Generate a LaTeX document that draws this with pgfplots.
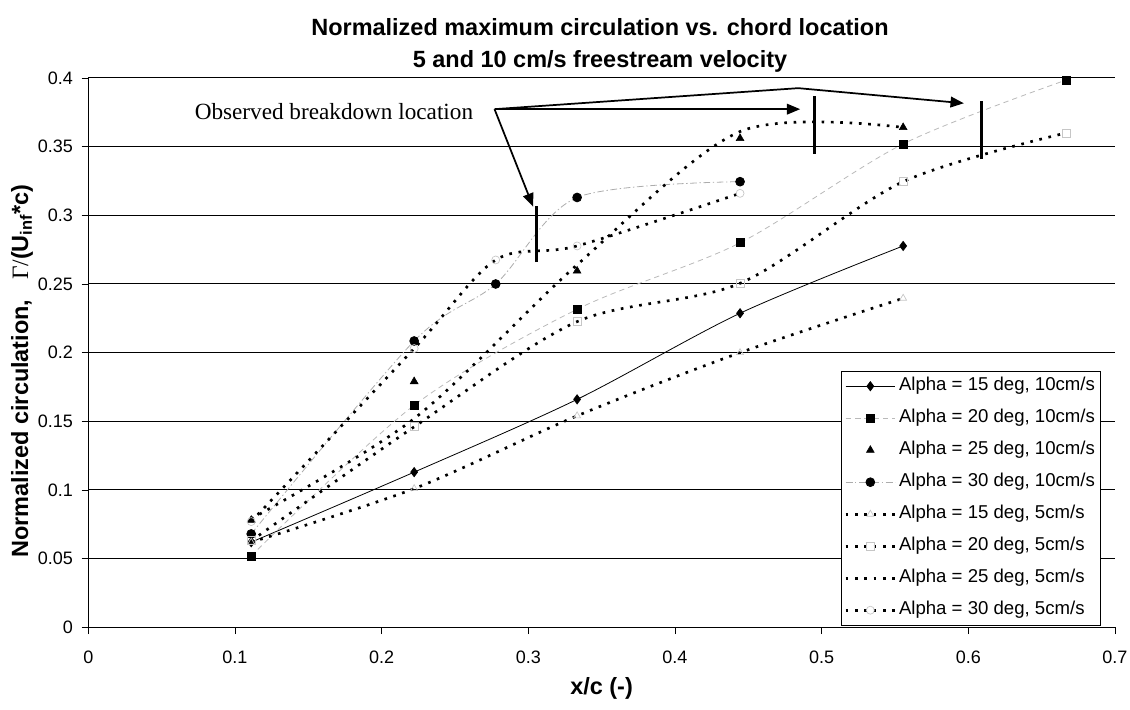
\documentclass[border=0pt]{standalone}
\usepackage{fontspec}
\setmainfont{Liberation Sans}
\newfontfamily\seriffont{Liberation Serif}
\usepackage{pgfplots}
\pgfplotsset{compat=1.18}
\usetikzlibrary{arrows.meta}
\pgfplotsset{
  widelegend/.style={legend image code/.code={\draw[mark repeat=2, mark phase=2, ##1] plot coordinates {(0pt,0pt) (18.5pt,0pt) (37pt,0pt)};}},
  markonlylegend/.style={legend image code/.code={\draw[##1] plot coordinates {(18.5pt,0pt)};}},
  fivecm/.style={black, line width=2pt, dash pattern=on 2pt off 5pt, smooth},
}
\begin{document}
\begin{tikzpicture}
\useasboundingbox (-66.2pt,-61.3pt) rectangle (781.3pt,470.5pt);
\begin{axis}[
  at={(0pt,0pt)}, anchor=south west,
  scale only axis, width=770pt, height=412pt,
  xmin=0, xmax=0.7, ymin=0, ymax=0.4,
  xtick={0,0.1,0.2,0.3,0.4,0.5,0.6,0.7},
  ytick={0,0.05,0.1,0.15,0.2,0.25,0.3,0.35,0.4},
  axis x line*=bottom, axis y line*=left,
  ymajorgrids, grid style={black, line width=0.75pt},
  tick align=outside, major tick length=5pt,
  tick style={black, line width=0.6pt},
  axis line style={black, line width=0.7pt},
  /pgf/number format/assume math mode=true,
  /pgf/number format/fixed, /pgf/number format/precision=2,
  tick label style={font=\fontsize{13.5}{16}\selectfont},
  xticklabel style={yshift=-9pt},
  yticklabel style={xshift=-3pt},
  xlabel={\textbf{x/c (-)}},
  xlabel style={at={(axis description cs:0.5,-0.112)}, anchor=center, font=\fontsize{17.6}{20}\selectfont},
  ylabel={\textbf{Normalized circulation,}\ \ \ {\seriffont Γ/}\textbf{(U\textsubscript{inf}*c)}},
  ylabel style={at={(axis description cs:-0.0646,0.4666)}, anchor=center, font=\fontsize{17.6}{20}\selectfont},
  legend style={at={(0.986,0.004)}, anchor=south east, draw=black, fill=white,
    font=\fontsize{13.95}{16}\selectfont, inner xsep=2pt, inner ysep=1pt, row sep=4pt,
    nodes={inner ysep=3.5pt, inner xsep=2pt, text height=10pt, text depth=3pt}},
  legend cell align=left,
  widelegend,
]
% 10 cm/s
\addplot[black, line width=0.6pt, smooth, mark=diamond*, mark size=3.4pt, mark options={solid}]
  coordinates {(0.1111,0.062) (0.2222,0.113) (0.3333,0.166) (0.4444,0.2287) (0.5556,0.2777)};
\addlegendentry{Alpha = 15 deg, 10cm/s}
\addplot[gray!55, line width=0.6pt, dash pattern=on 4pt off 3pt, smooth, mark=square*, mark size=3pt, mark options={solid, black}]
  coordinates {(0.1111,0.052) (0.2222,0.1617) (0.3333,0.2316) (0.4444,0.280) (0.5556,0.352) (0.6667,0.3985)};
\addlegendentry{Alpha = 20 deg, 10cm/s}
\addplot[only marks, black, mark=triangle*, mark size=3.4pt, markonlylegend]
  coordinates {(0.1111,0.078) (0.2222,0.179) (0.3333,0.2595) (0.4444,0.356) (0.5556,0.364)};
\addlegendentry{Alpha = 25 deg, 10cm/s}
\addplot[gray!65, line width=0.6pt, dash pattern=on 5pt off 2pt on 1pt off 2pt, smooth, mark=*, mark size=3.3pt, mark options={solid, black}]
  coordinates {(0.1111,0.068) (0.2222,0.2085) (0.2778,0.250) (0.3333,0.313) (0.4444,0.3245)};
\addlegendentry{Alpha = 30 deg, 10cm/s}
% 5 cm/s
\addplot[fivecm, mark=triangle, mark size=3pt, mark options={solid, gray!45, line width=0.5pt}]
  coordinates {(0.1111,0.062) (0.2222,0.101) (0.3333,0.154) (0.4444,0.200) (0.5556,0.2396)};
\addlegendentry{Alpha = 15 deg, 5cm/s}
\addplot[fivecm, mark=square, mark size=3pt, mark options={solid, gray!45, line width=0.5pt}]
  coordinates {(0.1111,0.063) (0.2222,0.146) (0.3333,0.2226) (0.4444,0.2505) (0.5556,0.3245) (0.6667,0.360)};
\addlegendentry{Alpha = 20 deg, 5cm/s}
\addplot[fivecm]
  coordinates {(0.1111,0.079) (0.2222,0.152) (0.3333,0.264) (0.4444,0.361) (0.5556,0.364)};
\addlegendentry{Alpha = 25 deg, 5cm/s}
\addplot[fivecm, mark=o, mark size=3pt, mark options={solid, gray!45, line width=0.5pt}]
  coordinates {(0.1111,0.077) (0.2222,0.203) (0.2778,0.2675) (0.3333,0.2777) (0.4444,0.316)};
\addlegendentry{Alpha = 30 deg, 5cm/s}
% observed breakdown bars
\addplot[black, line width=2.3pt, forget plot] coordinates {(0.3057,0.266) (0.3057,0.307)};
\addplot[black, line width=2.3pt, forget plot] coordinates {(0.495,0.345) (0.495,0.387)};
\addplot[black, line width=2.3pt, forget plot] coordinates {(0.609,0.341) (0.609,0.383)};
% annotation
\node[font=\seriffont\fontsize{17.4}{20}\selectfont, anchor=center] at (axis cs:0.1675,0.3755) {Observed breakdown location};
\draw[black, line width=1.3pt, -{Triangle[length=10pt,width=8pt]}] (axis cs:0.277,0.3773) -- (axis cs:0.3033,0.3063);
\draw[black, line width=1.3pt, -{Triangle[length=10pt,width=8pt]}] (axis cs:0.277,0.3773) -- (axis cs:0.4854,0.3773);
\draw[black, line width=1.3pt, -{Triangle[length=10pt,width=8pt]}] (axis cs:0.277,0.3773) -- (axis cs:0.4841,0.3926) -- (axis cs:0.597,0.3816);
\end{axis}
\node[anchor=base, font=\bfseries\fontsize{17.6}{20}\selectfont] at (383.8pt,444.2pt) {Normalized maximum circulation vs. chord location};
\node[anchor=base, font=\bfseries\fontsize{17.6}{20}\selectfont] at (383.8pt,420.2pt) {5 and 10 cm/s freestream velocity};
\end{tikzpicture}
\end{document}
